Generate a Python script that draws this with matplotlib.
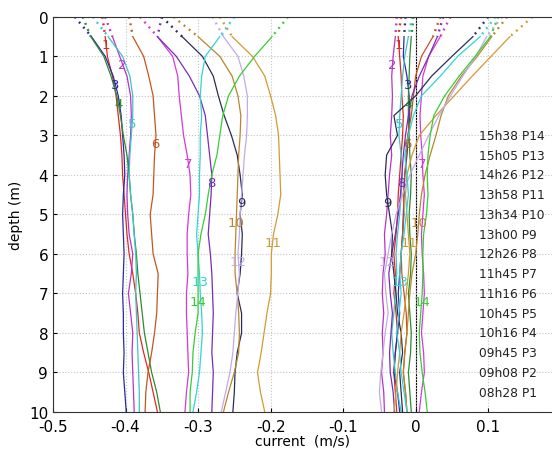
"""Current profiles: 14 casts, two velocity components per cast."""

import numpy as np
import matplotlib
matplotlib.use("Agg")
import matplotlib.pyplot as plt

depth = [0, 0.5, 1, 1.5, 2, 2.5, 3, 3.5, 4, 4.5, 5, 5.5, 6, 6.5, 7, 7.5, 8, 8.5, 9, 9.5, 10]

# left bundle (first component)
u1 = [-0.432, -0.428, -0.425, -0.418, -0.413, -0.410, -0.407, -0.405, -0.404, -0.402, -0.400, -0.398, -0.395, -0.390, -0.386, -0.383, -0.381, -0.375, -0.368, -0.362, -0.356]
u2 = [-0.428, -0.418, -0.408, -0.398, -0.393, -0.392, -0.393, -0.395, -0.397, -0.398, -0.397, -0.395, -0.390, -0.392, -0.396, -0.393, -0.390, -0.391, -0.390, -0.389, -0.388]
u3 = [-0.470, -0.447, -0.428, -0.417, -0.410, -0.406, -0.404, -0.402, -0.401, -0.403, -0.404, -0.403, -0.402, -0.403, -0.404, -0.403, -0.403, -0.402, -0.403, -0.401, -0.399]
u4 = [-0.459, -0.448, -0.430, -0.420, -0.412, -0.407, -0.403, -0.398, -0.395, -0.393, -0.390, -0.388, -0.385, -0.383, -0.380, -0.377, -0.374, -0.369, -0.364, -0.357, -0.352]
u5 = [-0.445, -0.424, -0.404, -0.394, -0.390, -0.390, -0.392, -0.394, -0.395, -0.393, -0.390, -0.388, -0.386, -0.385, -0.386, -0.385, -0.384, -0.383, -0.382, -0.381, -0.381]
u6 = [-0.395, -0.390, -0.375, -0.368, -0.362, -0.360, -0.358, -0.360, -0.361, -0.362, -0.366, -0.364, -0.362, -0.355, -0.356, -0.357, -0.360, -0.364, -0.369, -0.372, -0.373]
u7 = [-0.380, -0.356, -0.335, -0.328, -0.326, -0.323, -0.320, -0.315, -0.311, -0.310, -0.313, -0.315, -0.315, -0.314, -0.316, -0.316, -0.315, -0.314, -0.313, -0.316, -0.318]
u8 = [-0.350, -0.356, -0.330, -0.312, -0.298, -0.290, -0.287, -0.284, -0.281, -0.282, -0.284, -0.286, -0.283, -0.281, -0.280, -0.279, -0.280, -0.281, -0.279, -0.280, -0.281]
u9 = [-0.350, -0.322, -0.294, -0.279, -0.272, -0.264, -0.254, -0.246, -0.242, -0.239, -0.242, -0.239, -0.240, -0.242, -0.246, -0.240, -0.240, -0.246, -0.249, -0.250, -0.252]
u10 = [-0.334, -0.300, -0.270, -0.253, -0.245, -0.241, -0.242, -0.244, -0.245, -0.246, -0.247, -0.248, -0.249, -0.249, -0.246, -0.244, -0.243, -0.244, -0.250, -0.258, -0.265]
u11 = [-0.270, -0.253, -0.225, -0.208, -0.200, -0.193, -0.189, -0.188, -0.187, -0.186, -0.190, -0.196, -0.199, -0.199, -0.200, -0.205, -0.209, -0.213, -0.218, -0.214, -0.208]
u12 = [-0.280, -0.265, -0.245, -0.237, -0.232, -0.232, -0.233, -0.236, -0.238, -0.240, -0.242, -0.243, -0.245, -0.243, -0.245, -0.248, -0.250, -0.252, -0.256, -0.262, -0.268]
u13 = [-0.250, -0.270, -0.290, -0.295, -0.297, -0.295, -0.297, -0.297, -0.298, -0.298, -0.300, -0.302, -0.300, -0.298, -0.297, -0.295, -0.294, -0.296, -0.298, -0.302, -0.307]
u14 = [-0.176, -0.198, -0.222, -0.243, -0.258, -0.266, -0.270, -0.274, -0.281, -0.286, -0.290, -0.296, -0.300, -0.300, -0.300, -0.300, -0.304, -0.307, -0.308, -0.311, -0.311]

# right bundle (second component)
v1 = [-0.020, -0.024, -0.022, -0.020, -0.019, -0.017, -0.018, -0.020, -0.022, -0.024, -0.025, -0.027, -0.030, -0.028, -0.030, -0.027, -0.025, -0.028, -0.030, -0.028, -0.026]
v2 = [-0.026, -0.028, -0.031, -0.033, -0.032, -0.033, -0.035, -0.033, -0.036, -0.038, -0.040, -0.043, -0.042, -0.045, -0.046, -0.044, -0.046, -0.045, -0.047, -0.044, -0.043]
v3 = [-0.014, -0.016, -0.017, -0.012, -0.009, -0.008, -0.010, -0.012, -0.015, -0.016, -0.017, -0.018, -0.020, -0.022, -0.024, -0.022, -0.025, -0.028, -0.030, -0.025, -0.022]
v4 = [-0.003, -0.006, -0.008, -0.009, -0.010, -0.010, -0.009, -0.008, -0.006, -0.007, -0.009, -0.008, -0.006, -0.007, -0.010, -0.008, -0.006, -0.007, -0.010, -0.008, -0.006]
v5 = [-0.005, -0.010, -0.015, -0.018, -0.020, -0.022, -0.023, -0.020, -0.018, -0.020, -0.022, -0.025, -0.027, -0.026, -0.028, -0.030, -0.033, -0.031, -0.028, -0.025, -0.020]
v6 = [0.034, 0.024, 0.008, 0.000, -0.003, -0.006, -0.011, -0.013, -0.015, -0.017, -0.016, -0.018, -0.020, -0.019, -0.016, -0.013, -0.012, -0.015, -0.017, -0.014, -0.012]
v7 = [0.048, 0.034, 0.018, 0.010, 0.008, 0.006, 0.007, 0.009, 0.010, 0.012, 0.010, 0.008, 0.009, 0.011, 0.012, 0.010, 0.008, 0.011, 0.012, 0.008, 0.005]
v8 = [0.038, 0.030, 0.018, 0.005, -0.005, -0.010, -0.014, -0.017, -0.019, -0.021, -0.024, -0.028, -0.033, -0.037, -0.035, -0.032, -0.034, -0.036, -0.035, -0.031, -0.029]
v9 = [0.100, 0.079, 0.050, 0.022, 0.000, -0.030, -0.025, -0.040, -0.042, -0.040, -0.036, -0.032, -0.033, -0.030, -0.027, -0.025, -0.020, -0.018, -0.022, -0.020, -0.018]
v10 = [0.126, 0.105, 0.085, 0.063, 0.045, 0.035, 0.028, 0.020, 0.013, 0.008, 0.005, 0.003, 0.000, -0.005, -0.008, -0.010, -0.012, -0.015, -0.017, -0.014, -0.012]
v11 = [0.161, 0.130, 0.104, 0.078, 0.053, 0.028, 0.005, -0.005, -0.012, -0.014, -0.012, -0.010, -0.008, -0.010, -0.013, -0.016, -0.020, -0.022, -0.025, -0.027, -0.030]
v12 = [0.119, 0.098, 0.083, 0.065, 0.048, 0.032, 0.018, 0.005, -0.008, -0.018, -0.027, -0.033, -0.038, -0.043, -0.041, -0.038, -0.042, -0.045, -0.048, -0.050, -0.047]
v13 = [0.110, 0.089, 0.058, 0.034, 0.008, -0.003, -0.010, -0.015, -0.012, -0.010, -0.013, -0.016, -0.020, -0.022, -0.020, -0.023, -0.026, -0.022, -0.020, -0.016, -0.012]
v14 = [0.114, 0.103, 0.082, 0.060, 0.040, 0.025, 0.020, 0.017, 0.016, 0.017, 0.015, 0.011, 0.010, 0.010, 0.009, 0.007, 0.005, 0.006, 0.009, 0.013, 0.016]

times = ["08h28", "09h08", "09h45", "10h16", "10h45", "11h16", "11h45",
         "12h26", "13h00", "13h34", "13h58", "14h26", "15h05", "15h38"]

colors = ["#dc2a22", "#b535c8", "#2b2ba6", "#2e8b2e", "#3cc4c8", "#c4561e", "#d43ad4",
          "#7a2cb8", "#2c2c5c", "#b8862c", "#d29a34", "#c2aaea", "#30d4d8", "#38cc38"]

U = [u1, u2, u3, u4, u5, u6, u7, u8, u9, u10, u11, u12, u13, u14]
V = [v1, v2, v3, v4, v5, v6, v7, v8, v9, v10, v11, v12, v13, v14]

fig = plt.figure(figsize=(5.52, 4.52), dpi=100)
ax = fig.add_axes([0.096, 0.0865, 0.904, 0.874])

ax.axvline(0, color="k", lw=0.8, zorder=1)

for k in range(14):
    for prof in (U[k], V[k]):
        ax.plot(prof[:2], depth[:2], color=colors[k], lw=1.7, linestyle=(0, (0.8, 2.0)), zorder=2)
        ax.plot(prof[1:], depth[1:], color=colors[k], lw=0.9, zorder=2)
        # profile number along a diagonal
        d_lab = 0.2 + 0.5 * (k + 1)
        x_lab = np.interp(d_lab, depth, prof)
        ax.text(x_lab, d_lab, str(k + 1), color=colors[k], fontsize=9.5,
                ha="center", va="center", zorder=3)
    ax.text(0.088, 3.0 + 0.5 * (13 - k), f"{times[k]} P{k + 1}", fontsize=8.8,
            ha="left", va="center", color="#222222", zorder=3)

ax.set_xlim(-0.5, 0.188)
ax.set_ylim(10, 0)
ax.set_xticks([-0.5, -0.4, -0.3, -0.2, -0.1, 0, 0.1])
ax.set_xticklabels(["-0.5", "-0.4", "-0.3", "-0.2", "-0.1", "0", "0.1"])
ax.set_yticks(range(11))
ax.tick_params(direction="in", labelsize=11, length=3)
ax.tick_params(axis="x", pad=5)
ax.grid(True, linestyle=":", color="#c4c4c4", lw=0.8)
ax.spines["right"].set_visible(False)
for s in ("left", "top", "bottom"):
    ax.spines[s].set_color("#333333")
    ax.spines[s].set_linewidth(0.8)

ax.set_xlabel("current  (m/s)", fontsize=10, labelpad=0)
ax.set_ylabel("depth (m)", fontsize=10, labelpad=4)

fig.savefig("out.png", dpi=100)
